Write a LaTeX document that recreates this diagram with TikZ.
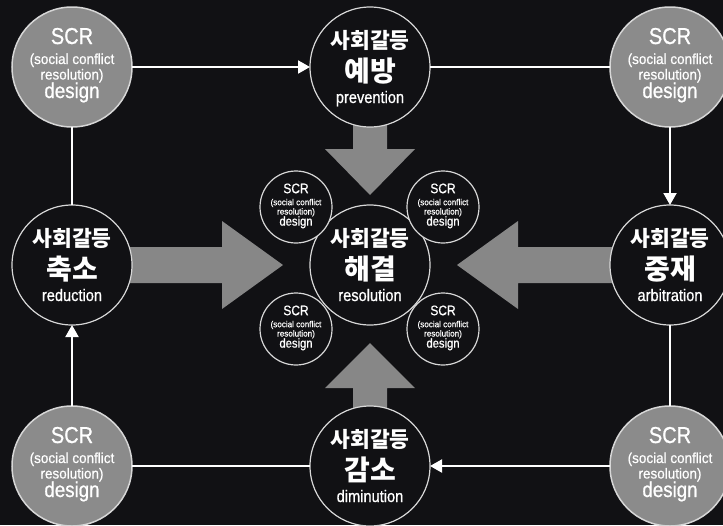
\documentclass[tikz,border=0pt]{standalone}
\usepackage{fontspec}
\setmainfont{Liberation Sans}
\newfontfamily\enfont[FakeStretch=0.87,FakeBold=0.8]{Liberation Sans}
\newfontfamily\ensmall[FakeStretch=0.93,FakeBold=0.6]{Liberation Sans}
\newfontfamily\krfont{Noto Sans CJK KR}
\usetikzlibrary{calc,arrows.meta}
\definecolor{bgc}{RGB}{17,17,20}
\definecolor{circgray}{RGB}{139,139,139}
\definecolor{blockgray}{RGB}{135,135,135}
\definecolor{rimgray}{RGB}{215,215,215}
\tikzset{
  bigdark/.style={circle,draw=rimgray,line width=1.2pt,fill=bgc,minimum size=120pt,inner sep=0pt,outer sep=0pt},
  biggray/.style={circle,draw=rimgray,line width=1.5pt,fill=circgray,minimum size=120pt,inner sep=0pt,outer sep=0pt},
  smalldark/.style={circle,draw=rimgray,line width=1.2pt,fill=bgc,minimum size=72pt,inner sep=0pt,outer sep=0pt},
  conn/.style={draw=white,line width=2pt},
  tipped/.style={-{Triangle[width=13pt,length=12pt]}},
  blockarrow/.style={fill=blockgray},
  txt/.style={text=white,anchor=base,inner sep=0pt}
}
\newcommand\scrtext[2]{%
  \pgfmathsetmacro\fsa{23*#2}\pgfmathsetmacro\fsb{14.5*#2}\pgfmathsetmacro\fsc{21.5*#2}%
  \node[txt,font=\enfont\fontsize{\fsa}{\fsa}\selectfont] (#1-a) at ($(#1)+(0,{-23*#2})$) {SCR};
  \node[txt,font=\ensmall\fontsize{\fsb}{\fsb}\selectfont] (#1-b) at ($(#1)+(0,{-3*#2})$) {(social conflict};
  \node[txt,font=\ensmall\fontsize{\fsb}{\fsb}\selectfont] (#1-c) at ($(#1)+(0,{12.5*#2})$) {resolution)};
  \node[txt,font=\enfont\fontsize{\fsc}{\fsc}\selectfont] (#1-d) at ($(#1)+(0,{31*#2})$) {design};
}
\newcommand\darktext[3]{%
  \node[txt,font=\krfont\bfseries\fontsize{21.5}{21.5}\selectfont] (#1-a) at ($(#1)+(0,-19)$) {사회갈등};
  \node[txt,font=\krfont\bfseries\fontsize{28}{28}\selectfont] (#1-b) at ($(#1)+(0,14)$) {#2};
  \node[txt,font=\enfont\fontsize{16.8}{16.8}\selectfont] (#1-c) at ($(#1)+(0,36)$) {#3};
}
\begin{document}
\begin{tikzpicture}[x=1pt,y=-1pt]
\useasboundingbox (0,0) rectangle (723,525);
\fill[bgc] (0,0) rectangle (723,525);
\clip (0,0) rectangle (723,525);
% block arrows
\fill[blockarrow] (72,247) -- (222,247) -- (222,221) -- (283,265) -- (222,309) -- (222,283) -- (72,283) -- cycle;
\fill[blockarrow] (670,247) -- (518,247) -- (518,221) -- (457,265) -- (518,309) -- (518,283) -- (670,283) -- cycle;
\fill[blockarrow] (353,67) -- (353,149) -- (325,149) -- (370,195) -- (415,149) -- (387,149) -- (387,67) -- cycle;
\fill[blockarrow] (353,466) -- (353,388) -- (325,388) -- (370,343) -- (415,388) -- (387,388) -- (387,466) -- cycle;
% circles
\node[biggray] (tl) at (72,67) {};
\node[bigdark] (prev) at (370,67) {};
\node[biggray] (tr) at (670,67) {};
\node[bigdark] (red) at (72,265) {};
\node[bigdark] (res) at (370,265) {};
\node[bigdark] (arb) at (670,265) {};
\node[biggray] (bl) at (72,466) {};
\node[bigdark] (dim) at (370,466) {};
\node[biggray] (br) at (670,466) {};
\node[smalldark] (s1) at (296,207) {};
\node[smalldark] (s2) at (443,207) {};
\node[smalldark] (s3) at (296,329) {};
\node[smalldark] (s4) at (443,329) {};
% connectors
\draw[conn,tipped] (tl) -- (prev);
\draw[conn] (prev) -- (tr);
\draw[conn,tipped] (tr) -- (arb);
\draw[conn] (arb) -- (br);
\draw[conn,tipped] (br) -- (dim);
\draw[conn] (dim) -- (bl);
\draw[conn,tipped] (bl) -- (red);
\draw[conn] (red) -- (tl);
% texts
\scrtext{tl}{1}
\scrtext{tr}{1}
\scrtext{bl}{1}
\scrtext{br}{1}
\scrtext{s1}{0.6}
\scrtext{s2}{0.6}
\scrtext{s3}{0.6}
\scrtext{s4}{0.6}
\darktext{prev}{예방}{prevention}
\darktext{red}{축소}{reduction}
\darktext{res}{해결}{resolution}
\darktext{arb}{중재}{arbitration}
\darktext{dim}{감소}{diminution}
\end{tikzpicture}
\end{document}
